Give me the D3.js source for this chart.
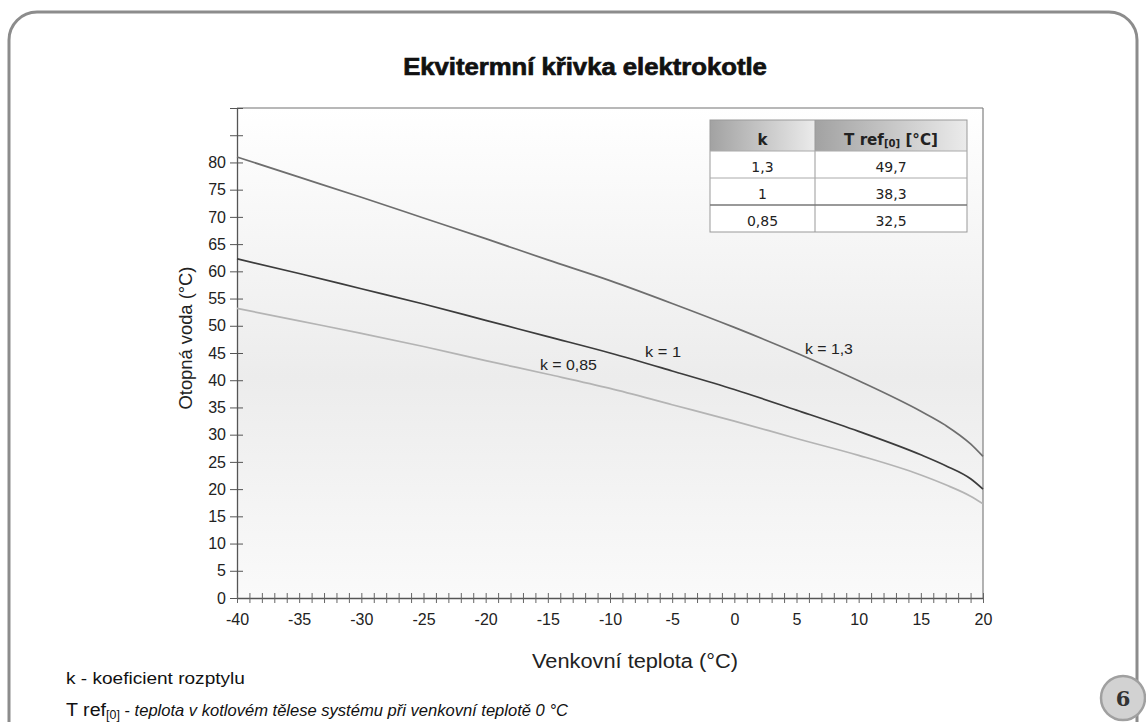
<!DOCTYPE html>
<html><head><meta charset="utf-8">
<script src="https://cdn.jsdelivr.net/npm/d3@7"></script>
<style>
html,body{margin:0;padding:0;background:#fff;}
svg{display:block;}
</style></head>
<body>
<svg id="c" width="1146" height="722"></svg>
<script>
// ---- data ----
const temps = [-40,-35,-30,-25,-20,-15,-10,-5,0,5,10,15,17,19,20];
const k13 = [81.0,77.3,73.6,69.8,66.0,62.1,58.3,54.1,49.7,45.0,39.9,34.3,31.7,28.3,26.0];
const k10 = [62.3,59.6,56.8,54.0,51.0,48.0,45.0,41.7,38.3,34.5,30.6,26.3,24.3,21.9,20.0];
const k085 = [53.2,50.9,48.6,46.2,43.6,41.1,38.5,35.5,32.5,29.3,26.2,22.6,20.8,18.7,17.3];
const seriesNames = ["k = 1,3","k = 1","k = 0,85"];
const tableK = ["1,3","1","0,85"];
const tableT = ["49,7","38,3","32,5"];
const xTicks = d3.range(-40,21,1);
const xLabels = [-40,-35,-30,-25,-20,-15,-10,-5,0,5,10,15,20];
const yTicks = d3.range(0,91,5);
const yLabels = [0,5,10,15,20,25,30,35,40,45,50,55,60,65,70,75,80];

const svg = d3.select("#c");
const defs = svg.append("defs");
const font = "Liberation Sans, Arial, sans-serif";

// horizontally fit a text element to a target width around anchor x
function fitX(sel, ax, target){
  const w = sel.node().getBBox().width;
  const s = target / w;
  sel.attr("transform", `translate(${ax},0) scale(${s},1) translate(${-ax},0)`);
}

// frame
svg.append("rect").attr("x",9).attr("y",12).attr("width",1128).attr("height",740)
  .attr("rx",28).attr("fill","none").attr("stroke","#8c8c8c").attr("stroke-width",3);

// title
const title = svg.append("text").attr("x",585).attr("y",75).attr("text-anchor","middle")
  .attr("font-family",font).attr("font-weight","bold")
  .attr("font-size",23).attr("fill","#111").attr("stroke","#111").attr("stroke-width",0.7)
  .text("Ekvitermní křivka elektrokotle");
fitX(title, 585, 364);

const L=237, R=983, T=108, B=598;
const x = d3.scaleLinear().domain([-40,20]).range([L,R]);
const y = d3.scaleLinear().domain([0,90]).range([B,T]);

// plot background gradient
const g1 = defs.append("linearGradient").attr("id","bg").attr("x1",0).attr("y1",0).attr("x2",0).attr("y2",1);
g1.append("stop").attr("offset","0%").attr("stop-color","#ffffff");
g1.append("stop").attr("offset","55%").attr("stop-color","#ececec");
g1.append("stop").attr("offset","100%").attr("stop-color","#fafafa");
svg.append("rect").attr("x",L).attr("y",T).attr("width",R-L).attr("height",B-T).attr("fill","url(#bg)");

// top and right borders
svg.append("line").attr("x1",L).attr("x2",R).attr("y1",T).attr("y2",T).attr("stroke","#a0a0a0").attr("stroke-width",1.5);
svg.append("line").attr("x1",R).attr("x2",R).attr("y1",T).attr("y2",B).attr("stroke","#808080").attr("stroke-width",1.2);

// axes
const yAxis = d3.axisLeft(y).tickValues(yTicks).tickSize(7).tickSizeOuter(0)
  .tickFormat(d => yLabels.includes(d) ? String(d) : "");
const ya = svg.append("g").attr("transform",`translate(${L},0)`).call(yAxis);
ya.select(".domain").attr("stroke","#555").attr("stroke-width",1.3);
ya.selectAll(".tick line").attr("stroke","#555").attr("x2",-7).attr("x1",6);
ya.selectAll(".tick text").attr("font-family",font).attr("font-size",16).attr("fill","#222").attr("x",-11);

const xAxis = d3.axisBottom(x).tickValues(xTicks).tickSize(6).tickSizeOuter(0)
  .tickFormat(d => xLabels.includes(d) ? String(d) : "");
const xa = svg.append("g").attr("transform",`translate(0,${B})`).call(xAxis);
xa.select(".domain").attr("stroke","#555").attr("stroke-width",1.3);
xa.selectAll(".tick line").attr("stroke","#666").attr("y1",-5).attr("y2",5);
xa.selectAll(".tick text").attr("font-family",font).attr("font-size",16).attr("fill","#222").attr("y",16);

// axis titles
const yt = svg.append("g").attr("transform","translate(192,338) rotate(-90)");
const ytt = yt.append("text").attr("x",0).attr("y",0).attr("text-anchor","middle")
  .attr("font-family",font).attr("font-size",17.5).attr("fill","#222").text("Otopná voda (°C)");
fitX(ytt, 0, 143);
const xt = svg.append("text").attr("x",635).attr("y",668).attr("text-anchor","middle")
  .attr("font-family",font).attr("font-size",20).attr("fill","#222").text("Venkovní teplota (°C)");
fitX(xt, 635, 206);

// lines
const series = [
  {vals:k13, color:"#6e6e6e"},
  {vals:k10, color:"#3c3c3c"},
  {vals:k085, color:"#b4b4b4"}
];
const line = d3.line().x((d,i)=>x(temps[i])).y(d=>y(d)).curve(d3.curveMonotoneX);
series.forEach(s=>{
  svg.append("path").datum(s.vals).attr("d",line).attr("fill","none")
    .attr("stroke",s.color).attr("stroke-width",1.7);
});

// line labels
const lblPos = [{t:5.68,v:44.8},{t:-7.18,v:44.3},{t:-15.63,v:41.9}];
const lblW = [48,36,57];
seriesNames.forEach((n,i)=>{
  const lx = x(lblPos[i].t);
  const t = svg.append("text").attr("x",lx).attr("y",y(lblPos[i].v))
    .attr("font-family",font).attr("font-size",15).attr("fill","#222").text(n);
  fitX(t, lx, lblW[i]);
});

// table
const tx0=710, tx1=815, tx2=967, ty=[120,151,178,205,232];
const hg = defs.append("linearGradient").attr("id","hg").attr("x1",0).attr("y1",0).attr("x2",1).attr("y2",0);
hg.append("stop").attr("offset","0%").attr("stop-color","#a2a2a2");
hg.append("stop").attr("offset","100%").attr("stop-color","#ebebeb");
const tbl = svg.append("g");
tbl.append("rect").attr("x",tx0).attr("y",ty[1]).attr("width",tx2-tx0).attr("height",ty[4]-ty[1]).attr("fill","#fff");
[[tx0,tx1],[tx1,tx2]].forEach(c=>{
  tbl.append("rect").attr("x",c[0]).attr("y",ty[0]).attr("width",c[1]-c[0]).attr("height",ty[1]-ty[0]).attr("fill","url(#hg)");
});
tbl.append("rect").attr("x",tx0).attr("y",ty[0]).attr("width",tx2-tx0).attr("height",ty[4]-ty[0])
  .attr("fill","none").attr("stroke","#999").attr("stroke-width",1);
tbl.append("line").attr("x1",tx1).attr("x2",tx1).attr("y1",ty[0]).attr("y2",ty[4]).attr("stroke","#999");
[1,2,3].forEach(i=>{
  tbl.append("line").attr("x1",tx0).attr("x2",tx2).attr("y1",ty[i]).attr("y2",ty[i])
    .attr("stroke", i===3 ? "#777" : "#aaa").attr("stroke-width", i===3?1.3:1);
});
const tf = "DejaVu Sans, Verdana, sans-serif";
tbl.append("text").attr("x",(tx0+tx1)/2).attr("y",145).attr("text-anchor","middle")
  .attr("font-family",tf).attr("font-weight","bold").attr("font-size",15).attr("fill","#222").text("k");
const ht = tbl.append("text").attr("x",(tx1+tx2)/2).attr("y",145).attr("text-anchor","middle")
  .attr("font-family",tf).attr("font-weight","bold").attr("font-size",15).attr("fill","#222");
ht.append("tspan").text("T ref");
ht.append("tspan").attr("font-size",10).attr("dy",2).text("[0]");
ht.append("tspan").attr("dy",-2).text(" [°C]");
fitX(ht, (tx1+tx2)/2, 94);
tableK.forEach((k,i)=>{
  const cy = (ty[i+1]+ty[i+2])/2 + 7;
  tbl.append("text").attr("x",(tx0+tx1)/2).attr("y",cy).attr("text-anchor","middle")
    .attr("font-family",tf).attr("font-size",14).attr("fill","#222").text(k);
  tbl.append("text").attr("x",(tx1+tx2)/2).attr("y",cy).attr("text-anchor","middle")
    .attr("font-family",tf).attr("font-size",14).attr("fill","#222").text(tableT[i]);
});

// footnotes
const f1 = svg.append("text").attr("x",66).attr("y",684).attr("font-family",font).attr("font-size",16.5).attr("fill","#111")
  .text("k - koeficient rozptylu");
fitX(f1, 66, 179);
const fn = svg.append("text").attr("x",66).attr("y",716).attr("font-family",font).attr("fill","#111");
fn.append("tspan").attr("font-size",19).text("T ref");
fn.append("tspan").attr("font-size",12).attr("dy",3).text("[0]");
fn.append("tspan").attr("font-size",16).attr("dy",-3).text(" - ");
fn.append("tspan").attr("font-size",16).attr("font-style","italic").text("teplota v kotlovém tělese systému při venkovní teplotě 0 °C");
fitX(fn, 66, 503);

// page number
svg.append("circle").attr("cx",1123).attr("cy",698).attr("r",22).attr("fill","#d2d2d2").attr("stroke","#a0a0a0").attr("stroke-width",2.5);
svg.append("text").attr("x",1123).attr("y",706).attr("text-anchor","middle")
  .attr("font-family","DejaVu Serif, serif").attr("font-weight","bold").attr("font-size",21).attr("fill","#333").text("6");
</script>
</body></html>
